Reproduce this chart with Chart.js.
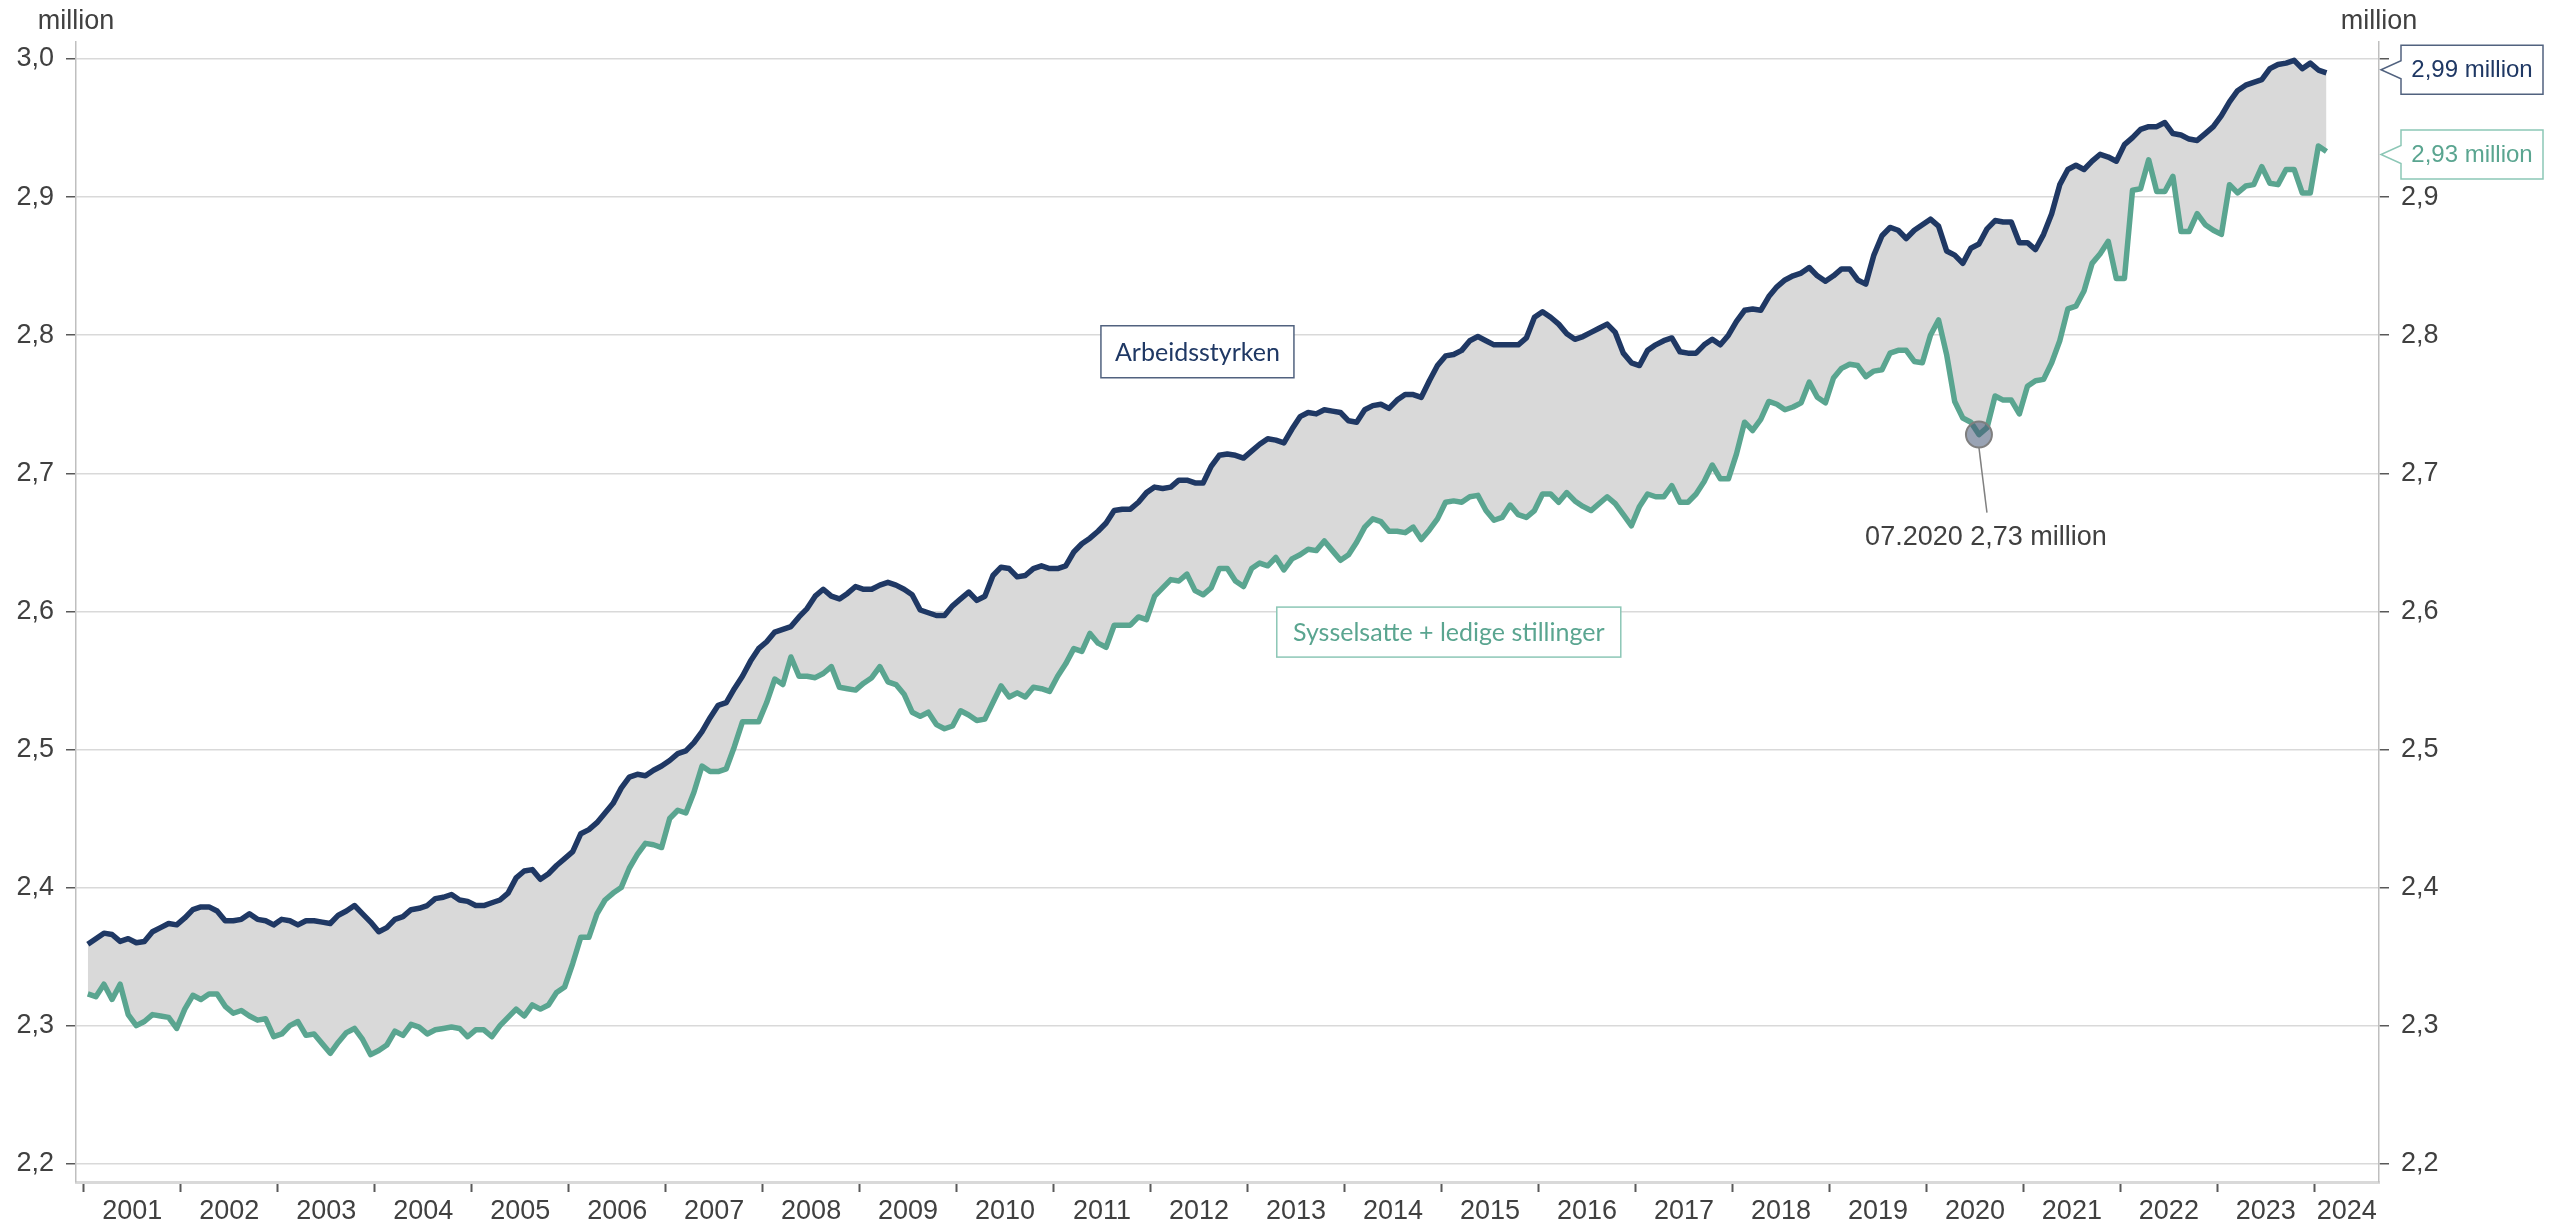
<!DOCTYPE html>
<html>
<head>
<meta charset="utf-8">
<script src="https://cdn.jsdelivr.net/npm/chart.js@4.4.0/dist/chart.umd.min.js"></script>
<style>
  html, body { margin: 0; padding: 0; background: #fff; }
  #wrap { width: 2552px; height: 1227px; }
</style>
</head>
<body>
<div id="wrap"><canvas id="laborChart" width="2552" height="1227"></canvas></div>
<script>
// Arbeidsstyrken og sysselsatte + ledige stillinger, millioner, månedlig jan 2001 - feb 2024
const firstYear = 2001;
const yearLabels = ['2001', '2002', '2003', '2004', '2005', '2006', '2007', '2008', '2009', '2010', '2011', '2012',
  '2013', '2014', '2015', '2016', '2017', '2018', '2019', '2020', '2021', '2022', '2023', '2024'];
const yTicks = [2.2, 2.3, 2.4, 2.5, 2.6, 2.7, 2.8, 2.9, 3.0];

const arbeidsstyrken = [
  2.359, 2.363, 2.367, 2.366, 2.361, 2.363, 2.360, 2.361, 2.368, 2.371, 2.374, 2.373,
  2.378, 2.384, 2.386, 2.386, 2.383, 2.376, 2.376, 2.377, 2.381, 2.377, 2.376, 2.373,
  2.377, 2.376, 2.373, 2.376, 2.376, 2.375, 2.374, 2.380, 2.383, 2.387, 2.381, 2.375,
  2.368, 2.371, 2.377, 2.379, 2.384, 2.385, 2.387, 2.392, 2.393, 2.395, 2.391, 2.390,
  2.387, 2.387, 2.389, 2.391, 2.396, 2.407, 2.412, 2.413, 2.406, 2.410, 2.416, 2.421,
  2.426, 2.439, 2.442, 2.447, 2.454, 2.461, 2.472, 2.480, 2.482, 2.481, 2.485, 2.488,
  2.492, 2.497, 2.499, 2.505, 2.513, 2.523, 2.532, 2.534, 2.544, 2.553, 2.564, 2.573,
  2.578, 2.585, 2.587, 2.589, 2.596, 2.602, 2.611, 2.616, 2.611, 2.609, 2.613, 2.618,
  2.616, 2.616, 2.619, 2.621, 2.619, 2.616, 2.612, 2.601, 2.599, 2.597, 2.597, 2.604,
  2.609, 2.614, 2.608, 2.611, 2.626, 2.632, 2.631, 2.625, 2.626, 2.631, 2.633, 2.631,
  2.631, 2.633, 2.643, 2.649, 2.653, 2.658, 2.664, 2.673, 2.674, 2.674, 2.679, 2.686,
  2.690, 2.689, 2.690, 2.695, 2.695, 2.693, 2.693, 2.705, 2.713, 2.714, 2.713, 2.711,
  2.716, 2.721, 2.725, 2.724, 2.722, 2.732, 2.741, 2.744, 2.743, 2.746, 2.745, 2.744,
  2.738, 2.737, 2.746, 2.749, 2.750, 2.747, 2.753, 2.757, 2.757, 2.755, 2.767, 2.778,
  2.785, 2.786, 2.789, 2.796, 2.799, 2.796, 2.793, 2.793, 2.793, 2.793, 2.798, 2.813,
  2.817, 2.813, 2.808, 2.801, 2.797, 2.799, 2.802, 2.805, 2.808, 2.802, 2.787, 2.780,
  2.778, 2.789, 2.793, 2.796, 2.798, 2.788, 2.787, 2.787, 2.793, 2.797, 2.793, 2.800,
  2.810, 2.818, 2.819, 2.818, 2.828, 2.835, 2.840, 2.843, 2.845, 2.849, 2.843, 2.839,
  2.843, 2.848, 2.848, 2.840, 2.837, 2.858, 2.872, 2.878, 2.876, 2.870, 2.876, 2.880,
  2.884, 2.879, 2.861, 2.858, 2.852, 2.863, 2.866, 2.877, 2.883, 2.882, 2.882, 2.867,
  2.867, 2.862, 2.873, 2.888, 2.909, 2.920, 2.923, 2.920, 2.926, 2.931, 2.929, 2.926,
  2.938, 2.943, 2.949, 2.951, 2.951, 2.954, 2.946, 2.945, 2.942, 2.941, 2.946, 2.951,
  2.959, 2.969, 2.977, 2.981, 2.983, 2.985, 2.993, 2.996, 2.997, 2.999, 2.993, 2.997,
  2.992, 2.990
];

const sysselsatteLedige = [
  2.323, 2.321, 2.330, 2.319, 2.330, 2.308, 2.300, 2.303, 2.308, 2.307, 2.306, 2.298,
  2.312, 2.322, 2.319, 2.323, 2.323, 2.314, 2.309, 2.311, 2.307, 2.304, 2.305, 2.292,
  2.294, 2.300, 2.303, 2.293, 2.294, 2.287, 2.280, 2.288, 2.295, 2.298, 2.290, 2.279,
  2.282, 2.286, 2.296, 2.293, 2.301, 2.299, 2.294, 2.297, 2.298, 2.299, 2.298, 2.292,
  2.297, 2.297, 2.292, 2.300, 2.306, 2.312, 2.307, 2.315, 2.312, 2.315, 2.324, 2.328,
  2.345, 2.364, 2.364, 2.381, 2.391, 2.396, 2.400, 2.414, 2.424, 2.432, 2.431, 2.429,
  2.450, 2.456, 2.454, 2.469, 2.488, 2.484, 2.484, 2.486, 2.502, 2.520, 2.520, 2.520,
  2.534, 2.551, 2.547, 2.567, 2.553, 2.553, 2.552, 2.555, 2.560, 2.545, 2.544, 2.543,
  2.548, 2.552, 2.560, 2.549, 2.547, 2.540, 2.527, 2.524, 2.527, 2.518, 2.515, 2.517,
  2.528, 2.525, 2.521, 2.522, 2.534, 2.546, 2.538, 2.541, 2.538, 2.545, 2.544, 2.542,
  2.553, 2.562, 2.573, 2.571, 2.584, 2.577, 2.574, 2.590, 2.590, 2.590, 2.596, 2.594,
  2.611, 2.617, 2.623, 2.622, 2.627, 2.615, 2.612, 2.617, 2.631, 2.631, 2.622, 2.618,
  2.631, 2.635, 2.633, 2.639, 2.630, 2.638, 2.641, 2.645, 2.644, 2.651, 2.644, 2.637,
  2.641, 2.650, 2.661, 2.667, 2.665, 2.658, 2.658, 2.657, 2.661, 2.652, 2.659, 2.667,
  2.679, 2.680, 2.679, 2.683, 2.684, 2.673, 2.666, 2.668, 2.677, 2.670, 2.668, 2.673,
  2.685, 2.685, 2.679, 2.686, 2.680, 2.676, 2.673, 2.678, 2.683, 2.678, 2.670, 2.662,
  2.676, 2.685, 2.683, 2.683, 2.691, 2.679, 2.679, 2.685, 2.694, 2.706, 2.696, 2.696,
  2.714, 2.737, 2.731, 2.739, 2.752, 2.750, 2.746, 2.748, 2.751, 2.766, 2.755, 2.751,
  2.769, 2.776, 2.779, 2.778, 2.770, 2.774, 2.775, 2.787, 2.789, 2.789, 2.781, 2.780,
  2.800, 2.811, 2.786, 2.752, 2.740, 2.737, 2.728, 2.733, 2.756, 2.753, 2.753, 2.743,
  2.763, 2.767, 2.768, 2.780, 2.796, 2.819, 2.821, 2.832, 2.852, 2.859, 2.868, 2.841,
  2.841, 2.905, 2.906, 2.927, 2.904, 2.904, 2.915, 2.875, 2.875, 2.888, 2.880, 2.876,
  2.873, 2.909, 2.903, 2.908, 2.909, 2.922, 2.910, 2.909, 2.920, 2.920, 2.903, 2.903,
  2.937, 2.933
];

// 07.2020, lowest point after the covid drop
const markIndex = 234;

const NAVY = '#1f3864';
const TEAL = '#5aa590';
const GRID = '#d9d9d9';
const AXIS = '#bfbfbf';
const TXT = '#404040';
const TICK = '#595959';
const FONT = '"Liberation Sans", Arial, sans-serif';
const LABEL_FONT = 'Lato, "Open Sans", sans-serif';

const fmt = (v, d) => v.toFixed(d).replace('.', ',');
const toPoints = arr => arr.map((v, i) => ({ x: i, y: v }));

const Y_MIN = 2.1868, Y_MAX = 3.0123;
const X_MIN = -1.46, X_MAX = 283.5;

function boxText(ctx, text, cx, cy, w, h, color, border) {
  ctx.save();
  ctx.fillStyle = '#fff';
  ctx.fillRect(cx - w / 2, cy - h / 2, w, h);
  ctx.strokeStyle = border;
  ctx.lineWidth = 1.5;
  ctx.strokeRect(cx - w / 2, cy - h / 2, w, h);
  ctx.font = '25px ' + LABEL_FONT;
  ctx.fillStyle = color;
  ctx.textAlign = 'center';
  ctx.textBaseline = 'middle';
  ctx.fillText(text, cx, cy + 1);
  ctx.restore();
}

function callout(ctx, text, tipX, cy, color, border) {
  const left = tipX + 20, w = 142, h = 49, top = cy - h / 2;
  ctx.save();
  ctx.beginPath();
  ctx.moveTo(left, top);
  ctx.lineTo(left + w, top);
  ctx.lineTo(left + w, top + h);
  ctx.lineTo(left, top + h);
  ctx.lineTo(left, cy + 9);
  ctx.lineTo(tipX, cy);
  ctx.lineTo(left, cy - 9);
  ctx.closePath();
  ctx.fillStyle = '#fff';
  ctx.fill();
  ctx.strokeStyle = border;
  ctx.lineWidth = 1.5;
  ctx.stroke();
  ctx.font = '24px ' + FONT;
  ctx.fillStyle = color;
  ctx.textAlign = 'center';
  ctx.textBaseline = 'middle';
  ctx.fillText(text, left + w / 2, cy + 1);
  ctx.restore();
}

const notesPlugin = {
  id: 'notes',
  afterDraw(chart) {
    const { ctx, chartArea: a } = chart;
    const x = chart.scales.x, y = chart.scales.y;

    // axis unit titles
    ctx.save();
    ctx.font = '27px ' + FONT;
    ctx.fillStyle = TXT;
    ctx.textAlign = 'center';
    ctx.textBaseline = 'middle';
    ctx.fillText('million', a.left, 22);
    ctx.fillText('million', a.right, 22);
    ctx.restore();

    // series labels
    boxText(ctx, 'Arbeidsstyrken', x.getPixelForValue(137.3), y.getPixelForValue(2.788), 193, 52, NAVY, '#51627f');
    boxText(ctx, 'Sysselsatte + ledige stillinger', x.getPixelForValue(168.4), y.getPixelForValue(2.585), 344, 50, TEAL, '#8cc7b6');

    // marked point 07.2020
    const mv = sysselsatteLedige[markIndex];
    const px = x.getPixelForValue(markIndex), py = y.getPixelForValue(mv);
    ctx.save();
    ctx.beginPath();
    ctx.arc(px, py, 13, 0, Math.PI * 2);
    ctx.fillStyle = 'rgba(70, 88, 118, 0.55)';
    ctx.fill();
    ctx.strokeStyle = '#7f7f7f';
    ctx.lineWidth = 2;
    ctx.stroke();
    ctx.beginPath();
    ctx.moveTo(px, py + 13);
    ctx.lineTo(px + 8, py + 78);
    ctx.strokeStyle = '#808080';
    ctx.lineWidth = 1.5;
    ctx.stroke();
    const mm = String(markIndex % 12 + 1).padStart(2, '0');
    const yy = firstYear + Math.floor(markIndex / 12);
    ctx.font = '27px ' + FONT;
    ctx.fillStyle = TXT;
    ctx.textAlign = 'center';
    ctx.textBaseline = 'middle';
    ctx.fillText(mm + '.' + yy + ' ' + fmt(mv, 2) + ' million', px + 7, py + 103);
    ctx.restore();

    // last value callouts
    const lastA = arbeidsstyrken[arbeidsstyrken.length - 1];
    const lastS = sysselsatteLedige[sysselsatteLedige.length - 1];
    callout(ctx, fmt(lastA, 2) + ' million', a.right + 2, y.getPixelForValue(lastA) - 3, NAVY, '#51627f');
    callout(ctx, fmt(lastS, 2) + ' million', a.right + 2, y.getPixelForValue(lastS) + 3, TEAL, '#8cc7b6');
  }
};

const yAxis = (position, width) => ({
  type: 'linear',
  position: position,
  display: true,
  min: Y_MIN,
  max: Y_MAX,
  afterBuildTicks: s => { s.ticks = yTicks.map(v => ({ value: v })); },
  afterFit: s => { s.width = width; },
  ticks: {
    padding: 12,
    color: TXT,
    font: { family: FONT, size: 27 },
    callback: v => (position === 'right' && v === 3.0) ? '' : fmt(v, 1)
  },
  grid: {
    drawOnChartArea: position === 'left',
    color: GRID,
    lineWidth: 1.5,
    tickLength: 10,
    tickColor: TICK,
    tickWidth: 1.5
  },
  border: { color: AXIS, width: 1.5 }
});

new Chart(document.getElementById('laborChart'), {
  type: 'line',
  data: {
    datasets: [{
      label: 'Arbeidsstyrken',
      data: toPoints(arbeidsstyrken),
      borderColor: NAVY,
      borderWidth: 5.5,
      borderJoinStyle: 'round',
      pointRadius: 0,
      tension: 0,
      fill: '+1',
      backgroundColor: '#d9d9d9',
      yAxisID: 'y'
    }, {
      label: 'Sysselsatte + ledige stillinger',
      data: toPoints(sysselsatteLedige),
      borderColor: TEAL,
      borderWidth: 5.5,
      borderJoinStyle: 'round',
      pointRadius: 0,
      tension: 0,
      fill: false,
      yAxisID: 'y'
    }]
  },
  options: {
    responsive: false,
    animation: false,
    devicePixelRatio: 1,
    layout: { padding: { top: 42, left: 0, right: 0, bottom: 0 } },
    plugins: {
      legend: { display: false },
      tooltip: { enabled: false },
      filler: { drawTime: 'beforeDatasetsDraw' }
    },
    scales: {
      x: {
        type: 'linear',
        min: X_MIN,
        max: X_MAX,
        afterBuildTicks: s => {
          const t = [];
          yearLabels.forEach((lab, k) => {
            const start = k * 12 - 0.5;
            const end = Math.min(start + 12, X_MAX);
            t.push({ value: start });
            t.push({ value: (start + end) / 2 });
          });
          s.ticks = t;
        },
        afterFit: s => { s.height = 45; },
        ticks: {
          autoSkip: false,
          maxRotation: 0,
          padding: 3,
          color: TXT,
          font: { family: FONT, size: 27 },
          callback: (v, i) => (i % 2 ? yearLabels[(i - 1) / 2] : '')
        },
        grid: {
          drawOnChartArea: false,
          tickLength: 10,
          tickWidth: 2,
          tickColor: c => (c.index % 2 ? 'rgba(0,0,0,0)' : TICK)
        },
        border: { color: GRID, width: 3 }
      },
      y: yAxis('left', 76),
      y2: yAxis('right', 173)
    }
  },
  plugins: [notesPlugin]
});
</script>
</body>
</html>
